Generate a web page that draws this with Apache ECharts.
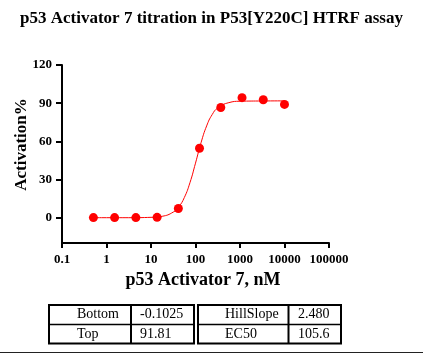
<!DOCTYPE html>
<html>
<head>
<meta charset="utf-8">
<script src="https://cdn.jsdelivr.net/npm/echarts@6/dist/echarts.min.js"></script>
<style>
    html, body { margin: 0; padding: 0; background: #fff; }
    #chart { width: 423px; height: 354px; }
</style>
</head>
<body>
<div id="chart"></div>
<script>
// concentrations (nM), 3-fold dilution
var conc = [0.508, 1.52, 4.57, 13.7, 41.2, 123, 370, 1111, 3333, 10000];
var activation = [0, 0, 0, 0.2, 7.1, 54.5, 86.6, 94.3, 92.7, 89.0];

// fitted curve
var curveConc = [0.5, 1, 3.16, 10, 17.8, 31.6, 42.2, 56.2, 75, 100, 133, 178, 237, 316, 562, 1000, 3162, 10000];
var curveVal = [-0.1, -0.1, -0.1, 0.2, 1.0, 4.3, 8.5, 15.8, 27.4, 42.8, 58.8, 72.1, 81.0, 86.2, 90.4, 91.5, 91.7, 91.8];

var xTickLabels = ['0.1', '1', '10', '100', '1000', '10000', '100000'];
var yTicks = [0, 30, 60, 90, 120];

var paramNames = [['Bottom', 'Top'], ['HillSlope', 'EC50']];
var paramValues = [['-0.1025', '91.81'], ['2.480', '105.6']];

var serif = '"Liberation Serif", "Times New Roman", serif';

(function () {
    var chart = echarts.init(document.getElementById('chart'));

    var pts = conc.map(function (c, i) { return [Math.log10(c), activation[i]]; });
    var curve = curveConc.map(function (c, i) { return [Math.log10(c), curveVal[i]]; });

    // parameter tables
    var tables = [
        {x0: 49, x1: 131, x2: 194, tx: [77, 140]},
        {x0: 198, x1: 288.5, x2: 341, tx: [225, 298]}
    ];
    var top = 305, mid = 324.5, bot = 343.5;
    var graphic = [];
    tables.forEach(function (t, k) {
        graphic.push({type: 'rect', shape: {x: t.x0, y: top, width: t.x2 - t.x0, height: bot - top},
            style: {fill: null, stroke: '#000', lineWidth: 2}});
        graphic.push({type: 'line', shape: {x1: t.x1, y1: top, x2: t.x1, y2: bot},
            style: {stroke: '#000', lineWidth: 2}});
        graphic.push({type: 'line', shape: {x1: t.x0, y1: mid, x2: t.x2, y2: mid},
            style: {stroke: '#000', lineWidth: 1.5}});
        for (var r = 0; r < 2; r++) {
            var cy = r === 0 ? (top + mid) / 2 : (mid + bot) / 2;
            graphic.push({type: 'text', x: t.tx[0], y: cy,
                style: {text: paramNames[k][r], font: '14px ' + serif, fill: '#000', verticalAlign: 'middle'}});
            graphic.push({type: 'text', x: t.tx[1], y: cy,
                style: {text: paramValues[k][r], font: '14px ' + serif, fill: '#000', verticalAlign: 'middle'}});
        }
    });
    graphic.push({type: 'line', shape: {x1: 0, y1: 352.5, x2: 423, y2: 352.5},
        style: {stroke: '#222', lineWidth: 1}});

    var option = {
        animation: false,
        title: {
            text: 'p53 Activator 7 titration in P53[Y220C] HTRF assay',
            left: 'center',
            top: 5,
            textStyle: {fontFamily: serif, fontSize: 17, fontWeight: 'bold', color: '#000'}
        },
        grid: {left: 62, right: 94, top: 65, bottom: 111, outerBoundsMode: 'none', containLabel: false},
        xAxis: {
            type: 'value',
            min: -1, max: 5, interval: 1,
            name: 'p53 Activator 7, nM',
            nameLocation: 'middle',
            nameGap: 23,
            nameTextStyle: {fontFamily: serif, fontSize: 18, fontWeight: 'bold', color: '#000', padding: [0, 0, 0, 15]},
            axisLine: {onZero: false, lineStyle: {color: '#000', width: 2}},
            axisTick: {length: 5, lineStyle: {color: '#000', width: 2}},
            axisLabel: {
                margin: 10,
                fontFamily: serif, fontSize: 13, fontWeight: 'bold', color: '#000',
                formatter: function (v) { return xTickLabels[Math.round(v) + 1]; }
            },
            splitLine: {show: false}
        },
        yAxis: {
            type: 'value',
            min: -20, max: 120,
            name: 'Activation%',
            nameLocation: 'middle',
            nameGap: 32,
            nameMoveOverlap: false,
            nameTextStyle: {fontFamily: serif, fontSize: 17, fontWeight: 'bold', color: '#000', padding: [0, 0, 0, 19]},
            axisLine: {show: true, onZero: false, lineStyle: {color: '#000', width: 2}},
            axisTick: {show: true, length: 6, customValues: yTicks, lineStyle: {color: '#000', width: 2}},
            axisLabel: {
                margin: 10, customValues: yTicks,
                fontFamily: serif, fontSize: 13, fontWeight: 'bold', color: '#000'
            },
            splitLine: {show: false}
        },
        series: [
            {
                type: 'line',
                data: curve,
                smooth: true,
                showSymbol: false,
                lineStyle: {color: '#ff0000', width: 1},
                z: 2
            },
            {
                type: 'scatter',
                data: pts,
                symbolSize: 9,
                itemStyle: {color: '#ff0000', opacity: 1},
                z: 3
            }
        ],
        graphic: graphic
    };
    chart.setOption(option);
}());
</script>
</body>
</html>
